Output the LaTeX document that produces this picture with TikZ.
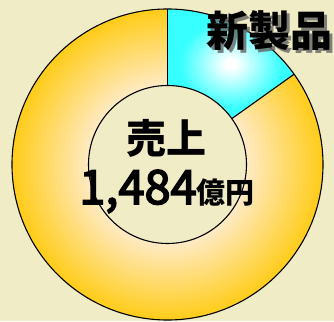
\documentclass[tikz,border=0pt]{standalone}
\usepackage{fontspec}
\newfontfamily\cjk{Noto Sans CJK JP}
\newfontfamily\cjkdig{Noto Sans CJK JP}[FakeBold=3.5]
\definecolor{bgc}{RGB}{240,236,198}
\definecolor{orng}{RGB}{255,204,24}
\definecolor{peach}{RGB}{255,234,196}
\definecolor{cyn}{RGB}{56,255,255}
\definecolor{shadowc}{RGB}{100,100,100}
\pgfdeclareradialshading{ringshade}{\pgfpoint{0bp}{0bp}}{color(0bp)=(peach); color(12.7bp)=(peach); color(25bp)=(orng); color(50bp)=(orng)}
\pgfdeclareradialshading{wedgeshade}{\pgfpoint{0bp}{0bp}}{color(0bp)=(white); color(2bp)=(white); color(20bp)=(cyn); color(50bp)=(cyn)}
\tikzset{
  edge/.style={draw=black, line width=1.1pt},
  bigtext/.style={font=\cjk\bfseries\fontsize{#1}{#1}\selectfont, inner sep=0pt}
}
\begin{document}
\begin{tikzpicture}[x=1pt,y=1pt]
\useasboundingbox (0,0) rectangle (334,321);
\fill[bgc] (0,0) rectangle (334,321);
\coordinate (c) at (167.5,156.5);
\begin{scope}[shift={(c)}]
  \shade[shading=ringshade, even odd rule] (0,0) circle (155.5) (0,0) circle (79);
  \shade[shading=wedgeshade] (35.5:155.5) arc (35.5:90:155.5) -- (90:79) arc (90:35.5:79) -- cycle;
  \draw[edge] (0,0) circle (155.5);
  \draw[edge] (0,0) circle (79);
  \coordinate (o1) at (90:155.5);
  \coordinate (i1) at (90:79);
  \coordinate (o2) at (35.5:155.5);
  \coordinate (i2) at (35.5:79);
  \draw[edge] (i1) -- (o1);
  \draw[edge] (i2) -- (o2);
\end{scope}
\node[bigtext=42, text=shadowc, opacity=0.8] (shadow) at (272.5,287.5) {新製品};
\node[bigtext=42] (newprod) at (269.5,290.5) {新製品};
\node[bigtext=40] (sales) at (166,183) {売上};
\node[inner sep=0pt, anchor=base] (amount) at (167,117) {\cjkdig\fontsize{47}{47}\selectfont 1,484{\cjk\bfseries\fontsize{29}{29}\selectfont 億円}};
\end{tikzpicture}
\end{document}
